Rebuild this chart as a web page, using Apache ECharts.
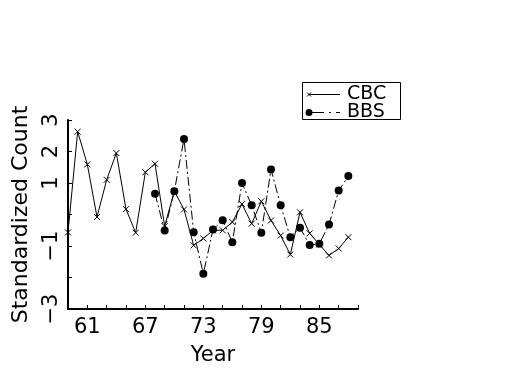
<!DOCTYPE html>
<html>
<head>
<meta charset="utf-8">
<script src="https://cdn.jsdelivr.net/npm/echarts@6/dist/echarts.min.js"></script>
<style>
html,body{margin:0;padding:0;background:#fff;}
#c{width:525px;height:375px;}
</style>
</head>
<body>
<div id="c"></div>
<script>
var cbcYears = [59,60,61,62,63,64,65,66,67,68,69,70,71,72,73,74,75,76,77,78,79,80,81,82,83,84,85,86,87,88];
var cbcValues = [-0.57,2.63,1.59,-0.08,1.1,1.95,0.17,-0.58,1.34,1.61,-0.37,0.74,0.16,-0.98,-0.76,-0.5,-0.5,-0.24,0.33,-0.29,0.42,-0.19,-0.67,-1.27,0.07,-0.6,-0.95,-1.3,-1.08,-0.72];
var bbsYears = [68,69,70,71,72,73,74,75,76,77,78,79,80,81,82,83,84,85,86,87,88];
var bbsValues = [0.66,-0.51,0.74,2.40,-0.56,-1.88,-0.48,-0.18,-0.88,1.0,0.29,-0.58,1.43,0.29,-0.72,-0.42,-0.97,-0.93,-0.32,0.76,1.22];
var xTickLabels = [61,67,73,79,85];
var yTickLabels = [3,2,1,-1,-3];
var seriesNames = ['CBC','BBS'];

var FONT = '"DejaVu Sans ExtraLight", "DejaVu Sans"';
function pairs(xs, ys){ return xs.map(function(x,i){ return [x, ys[i]]; }); }

var chart = echarts.init(document.getElementById('c'), null, {renderer:'canvas'});
chart.setOption({
  animation:false,
  backgroundColor:'#fff',
  grid:{left:68, top:120, right:167, bottom:66, containLabel:false},
  xAxis:{
    type:'value', min:59, max:89, interval:2,
    name:'Year', nameLocation:'middle', nameGap:36,
    nameTextStyle:{fontFamily:FONT, fontSize:21, color:'#000'},
    axisLine:{onZero:false, lineStyle:{color:'#000', width:2}},
    axisTick:{inside:true, length:4, lineStyle:{color:'#000', width:1}},
    axisLabel:{fontFamily:FONT, fontSize:21, color:'#000', margin:8,
      formatter:function(v){ return xTickLabels.indexOf(v) >= 0 ? String(v) : ''; }},
    splitLine:{show:false}
  },
  yAxis:{
    type:'value', min:-3, max:3, interval:1,
    name:'Standardized Count', nameLocation:'middle', nameGap:36, nameRotate:90,
    nameTextStyle:{fontFamily:FONT, fontSize:22, color:'#000'},
    axisLine:{show:true, onZero:false, lineStyle:{color:'#000', width:2}},
    axisTick:{show:true, inside:true, length:4, lineStyle:{color:'#000', width:1}},
    axisLabel:{fontFamily:FONT, fontSize:21, color:'#000', rotate:90, margin:6,
      formatter:function(v){ return yTickLabels.indexOf(v) >= 0 ? (v<0 ? '\u2212'+Math.abs(v) : String(v)) : ''; }},
    splitLine:{show:false}
  },
  series:[
    {
      name:seriesNames[0], type:'line', data:pairs(cbcYears, cbcValues),
      symbol:'path://M0,0L10,10M10,0L0,10', symbolSize:6,
      itemStyle:{color:'#000', borderColor:'#000', borderWidth:1},
      lineStyle:{color:'#000', width:1, type:'solid'}
    },
    {
      name:seriesNames[1], type:'line', data:pairs(bbsYears, bbsValues),
      symbol:'circle', symbolSize:8,
      itemStyle:{color:'#000', borderWidth:0},
      lineStyle:{color:'#000', width:1, type:[9,3,2,3]}
    }
  ],
  graphic:[
    {type:'rect', shape:{x:302.5, y:82.5, width:98, height:37}, style:{fill:'#fff', stroke:'#000', lineWidth:1}},
    {type:'line', shape:{x1:309, y1:94.5, x2:340, y2:94.5}, style:{stroke:'#000', lineWidth:1}},
    {type:'line', shape:{x1:307, y1:92.5, x2:311, y2:96.5}, style:{stroke:'#000', lineWidth:1}},
    {type:'line', shape:{x1:311, y1:92.5, x2:307, y2:96.5}, style:{stroke:'#000', lineWidth:1}},
    {type:'circle', shape:{cx:309, cy:112.5, r:3.5}, style:{fill:'#000'}},
    {type:'line', shape:{x1:309, y1:112.5, x2:340, y2:112.5}, style:{stroke:'#000', lineWidth:1, lineDash:[15,5,2,5]}},
    {type:'text', x:347, y:94.5, style:{text:seriesNames[0], font:'19px "DejaVu Sans ExtraLight", "DejaVu Sans"', fill:'#000', verticalAlign:'middle', align:'left'}},
    {type:'text', x:347, y:112.5, style:{text:seriesNames[1], font:'19px "DejaVu Sans ExtraLight", "DejaVu Sans"', fill:'#000', verticalAlign:'middle', align:'left'}}
  ]
});
</script>
</body>
</html>
